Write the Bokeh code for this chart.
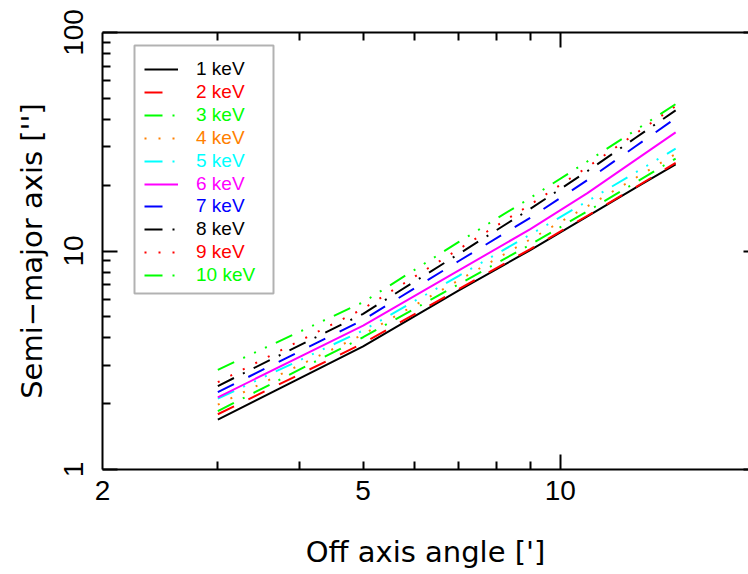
from bokeh.plotting import figure
from bokeh.models import (LogAxis, FixedTicker, Legend, LegendItem, BoxAnnotation,
                          CustomJSTickFormatter, PrintfTickFormatter, Range1d)
from bokeh.embed import file_html
from bokeh.resources import INLINE

# ---- data ----
off_axis = [3, 5, 7, 9, 11, 13, 15]
energy_labels = ["1 keV", "2 keV", "3 keV", "4 keV", "5 keV",
                 "6 keV", "7 keV", "8 keV", "9 keV", "10 keV"]
a_1kev = [1.69, 3.66, 6.6, 10.1, 14.4, 19.4, 24.9]
a_2kev = [1.79, 3.78, 6.7, 10.2, 14.5, 19.5, 25.3]
a_3kev = [1.85, 4.03, 7.05, 10.7, 15.2, 20.5, 26.5]
a_4kev = [1.98, 4.15, 7.35, 11.3, 16.0, 21.5, 27.8]
a_5kev = [2.11, 4.33, 7.7, 11.9, 16.9, 22.8, 29.4]
a_6kev = [2.14, 4.55, 8.15, 12.6, 18.4, 26.0, 34.9]
a_7kev = [2.26, 4.84, 9.0, 14.2, 21.1, 30.0, 40.5]
a_8kev = [2.41, 5.16, 9.7, 15.6, 23.2, 32.8, 44.0]
a_9kev = [2.51, 5.44, 10.2, 16.3, 24.2, 34.3, 46.0]
a_10kev = [2.86, 5.83, 11.0, 17.5, 25.7, 35.6, 47.0]
series = [a_1kev, a_2kev, a_3kev, a_4kev, a_5kev,
          a_6kev, a_7kev, a_8kev, a_9kev, a_10kev]
x_tick_values = [2, 5, 10]
y_tick_values = [1, 10, 100]

# ---- styles ----
colors = ["#000000", "#ff0000", "#00ff00", "#ff8000", "#00ffff",
          "#ff00ff", "#0000ff", "#000000", "#ff0000", "#00ff00"]
dashes = ["solid", "18 16", "18 10 2 10", "2 12", "18 10 2 10 2 10 2 10"] * 2

TICK_FONT = "Liberation Sans"
LABEL_FONT = "DejaVu Sans"

p = figure(width=748, height=574, x_axis_type="log", y_axis_type="log",
           x_range=Range1d(2, 19.38), y_range=Range1d(1, 100),
           output_backend="svg", toolbar_location=None,
           min_border_left=102, min_border_right=0, min_border_top=32,
           min_border_bottom=105)
p.outline_line_color = None
p.xgrid.visible = False
p.ygrid.visible = False
p.background_fill_color = "white"
p.border_fill_color = "white"

empty_fmt = CustomJSTickFormatter(code="return ''")

def style_ticks(ax, major_in, minor_in):
    ax.major_tick_in = major_in
    ax.major_tick_out = 0
    ax.minor_tick_in = minor_in
    ax.minor_tick_out = 0
    ax.axis_line_color = "black"
    ax.axis_line_width = 2
    ax.major_tick_line_color = "black"
    ax.major_tick_line_width = 2
    ax.minor_tick_line_color = "black"
    ax.minor_tick_line_width = 2

# bottom: tick marks only
xb = p.xaxis[0]
xb.ticker = FixedTicker(ticks=[10], minor_ticks=[3, 4, 5, 6, 7, 8, 9])
style_ticks(xb, 15, 8)
xb.formatter = empty_fmt
xb.major_label_standoff = 0

# bottom: labels
xl = LogAxis(ticker=FixedTicker(ticks=x_tick_values, minor_ticks=[]),
             formatter=PrintfTickFormatter(format="%d"))
xl.axis_line_color = None
xl.major_tick_line_color = None
xl.minor_tick_line_color = None
xl.major_tick_in = 0
xl.major_tick_out = 0
xl.major_label_standoff = 11
xl.major_label_text_font = TICK_FONT
xl.major_label_text_font_size = "28px"
xl.major_label_text_color = "black"
xl.axis_label = "Off axis angle [']"
xl.axis_label_text_font = LABEL_FONT
xl.axis_label_text_font_size = "29px"
xl.axis_label_text_font_style = "normal"
xl.axis_label_text_color = "black"
xl.axis_label_standoff = 32
p.add_layout(xl, "below")

# top
xt = LogAxis(ticker=FixedTicker(ticks=[10], minor_ticks=[3, 4, 5, 6, 7, 8, 9]),
             formatter=empty_fmt)
style_ticks(xt, 15, 8)
xt.major_label_standoff = 0
p.add_layout(xt, "above")

# left
yl = p.yaxis[0]
yl.ticker = FixedTicker(ticks=y_tick_values,
                        minor_ticks=[2, 3, 4, 5, 6, 7, 8, 9, 20, 30, 40, 50, 60, 70, 80, 90])
style_ticks(yl, 15, 8)
yl.formatter = PrintfTickFormatter(format="%d")
yl.major_label_orientation = "vertical"
yl.major_label_standoff = 20
yl.major_label_text_font = TICK_FONT
yl.major_label_text_font_size = "28px"
yl.major_label_text_color = "black"
yl.axis_label = "Semi\u2212major axis ['']"
yl.axis_label_text_font = LABEL_FONT
yl.axis_label_text_font_size = "29px"
yl.axis_label_text_font_style = "normal"
yl.axis_label_text_color = "black"
yl.axis_label_standoff = 12

# right (clipped edge in the reference: only short tick stubs visible)
yr = LogAxis(ticker=FixedTicker(ticks=y_tick_values, minor_ticks=[]),
             formatter=empty_fmt)
style_ticks(yr, 5, 0)
yr.axis_line_color = None
yr.major_label_standoff = 0
p.add_layout(yr, "right")

renderers = []
for vals, c, d in zip(series, colors, dashes):
    r = p.line(off_axis, vals, line_color=c, line_width=2, line_dash=d)
    renderers.append(r)

# legend: one single-item legend per entry so each label gets its own colour
first_center = 69
step = 22.9
item_h = 22
frame_bottom = 469
frame_left = 102
for i, (lab, r, c) in enumerate(zip(energy_labels, renderers, colors)):
    yc = first_center + step * i
    leg = Legend(items=[LegendItem(label=lab, renderers=[r])],
                 location=(144 - frame_left, frame_bottom - (yc + item_h / 2)),
                 padding=0, spacing=0, margin=0,
                 glyph_width=34, glyph_height=item_h, label_height=item_h,
                 label_standoff=18,
                 label_text_font=TICK_FONT, label_text_font_size="19px",
                 label_text_color=c,
                 border_line_alpha=0, background_fill_alpha=0)
    p.add_layout(leg)

box = BoxAnnotation(left=134, right=273, top=45, bottom=293,
                    left_units="canvas", right_units="canvas",
                    top_units="canvas", bottom_units="canvas",
                    fill_color=None, fill_alpha=0,
                    line_color="black", line_width=2)
p.add_layout(box)

open("out.html", "w").write(file_html(p, INLINE))
